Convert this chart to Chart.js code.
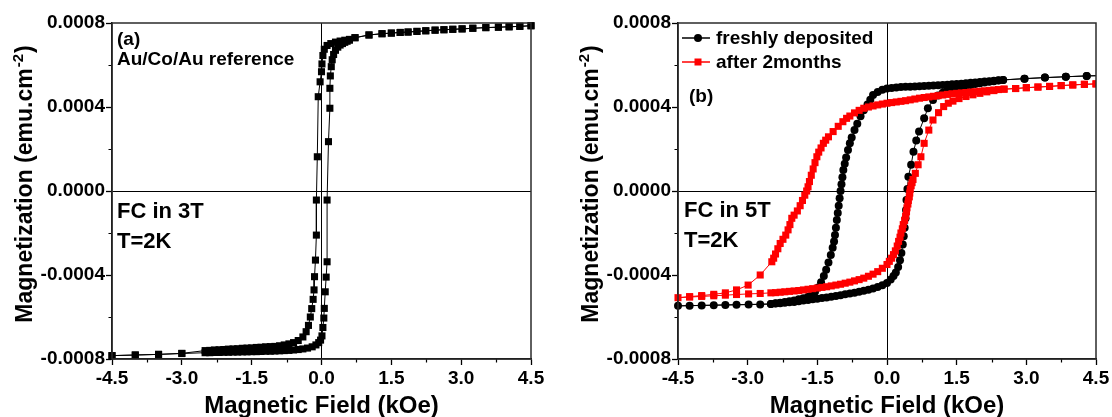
<!DOCTYPE html>
<html>
<head>
<meta charset="utf-8">
<script src="https://cdn.jsdelivr.net/npm/chart.js@4.4.1/dist/chart.umd.min.js"></script>
<style>
  body { margin: 0; background: #fff; }
  #wrap { position: relative; width: 1112px; height: 417px; }
  canvas { position: absolute; top: 0; }
  #chartA { left: 0; }
  #chartB { left: 556px; }
</style>
</head>
<body>
<div id="wrap">
  <canvas id="chartA" width="556" height="417"></canvas>
  <canvas id="chartB" width="556" height="417"></canvas>
</div>
<script>
// axes (field in kOe, magnetization in units of 1e-4 emu.cm-2)
const fieldTicks = [-4.5, -3, -1.5, 0, 1.5, 3, 4.5];
const fieldTickLabels = ['-4.5', '-3.0', '-1.5', '0.0', '1.5', '3.0', '4.5'];
const fieldMinor = [-3.75, -2.25, -0.75, 0.75, 2.25, 3.75];
const magTicks = [-8, -4, 0, 4, 8];
const magTickLabels = ['-0.0008', '-0.0004', '0.0000', '0.0004', '0.0008'];
const magMinor = [-6, -2, 2, 6];
const xTitle = 'Magnetic Field (kOe)';
const yTitle = ['Magnetization (emu.cm', '-2', ')'];

// (a) Au/Co/Au reference, field increasing then decreasing
const refUp = [[-4.5,-7.84],[-4.0,-7.81],[-3.5,-7.78],[-3.0,-7.74],[-2.5,-7.7],[-2.4,-7.7],[-2.3,-7.69],[-2.2,-7.69],
  [-2.1,-7.68],[-2.0,-7.68],[-1.9,-7.67],[-1.8,-7.67],[-1.7,-7.66],[-1.6,-7.66],[-1.5,-7.65],[-1.4,-7.65],[-1.3,-7.64],
  [-1.2,-7.63],[-1.1,-7.63],[-1.0,-7.62],[-0.9,-7.61],[-0.8,-7.6],[-0.7,-7.59],[-0.6,-7.57],[-0.5,-7.55],[-0.4,-7.52],
  [-0.3,-7.48],[-0.2,-7.42],[-0.12,-7.33],[-0.06,-7.22],[-0.02,-7.1],[0.01,-6.9],[0.03,-6.5],[0.05,-6.05],[0.06,-5.59],
  [0.08,-4.8],[0.1,-4.1],[0.12,-3.37],[0.12,-0.43],[0.15,2.35],[0.18,3.94],[0.18,4.89],[0.19,5.48],[0.21,5.92],
  [0.23,6.25],[0.26,6.5],[0.3,6.7],[0.35,6.85],[0.4,6.95],[0.45,7.02],[0.5,7.08],[0.55,7.13],[0.6,7.18],[0.72,7.3],
  [1.02,7.43],[1.3,7.49],[1.5,7.52],[1.69,7.55],[1.86,7.57],[2.05,7.6],[2.24,7.63],[2.44,7.66],[2.63,7.68],[2.82,7.7],
  [3.02,7.72],[3.25,7.75],[3.53,7.78],[3.8,7.8],[4.03,7.82],[4.26,7.84],[4.5,7.87]];
const refDown = [[4.5,7.87],[4.26,7.84],[4.03,7.82],[3.8,7.8],[3.53,7.78],[3.25,7.75],[3.02,7.72],[2.82,7.7],[2.63,7.68],
  [2.44,7.66],[2.24,7.63],[2.05,7.6],[1.86,7.57],[1.69,7.55],[1.5,7.52],[1.3,7.49],[1.02,7.43],[0.72,7.3],[0.6,7.22],
  [0.5,7.18],[0.4,7.14],[0.3,7.09],[0.2,7.02],[0.12,6.93],[0.06,6.75],[0.03,6.45],[0.01,6.05],[0.0,5.68],[-0.03,5.2],
  [-0.07,4.49],[-0.09,1.63],[-0.11,-0.43],[-0.11,-2.1],[-0.13,-3.29],[-0.15,-4.08],[-0.16,-4.71],[-0.18,-5.16],
  [-0.21,-5.6],[-0.24,-6.0],[-0.28,-6.4],[-0.33,-6.7],[-0.4,-6.95],[-0.5,-7.12],[-0.6,-7.22],[-0.7,-7.28],[-0.8,-7.33],
  [-0.9,-7.37],[-1.0,-7.4],[-1.1,-7.41],[-1.2,-7.42],[-1.3,-7.44],[-1.4,-7.45],[-1.5,-7.47],[-1.6,-7.48],[-1.7,-7.49],
  [-1.8,-7.51],[-1.9,-7.52],[-2.0,-7.53],[-2.1,-7.55],[-2.2,-7.56],[-2.3,-7.57],[-2.4,-7.59],[-2.5,-7.6],[-3.0,-7.73],
  [-3.5,-7.78],[-4.0,-7.81],[-4.5,-7.84]];

// (b) freshly deposited
const freshDown = [[4.75,5.5],[4.3,5.48],[3.85,5.44],[3.4,5.4],[2.96,5.35],[2.5,5.29],[2.4,5.27],[2.3,5.25],[2.2,5.23],
  [2.1,5.21],[2.0,5.19],[1.9,5.17],[1.8,5.15],[1.7,5.13],[1.6,5.11],[1.5,5.09],[1.4,5.08],[1.3,5.06],[1.2,5.05],
  [1.1,5.04],[1.0,5.02],[0.9,5.01],[0.8,5.0],[0.7,4.99],[0.6,4.98],[0.5,4.97],[0.4,4.96],[0.3,4.95],[0.2,4.93],
  [0.1,4.91],[0.0,4.88],[-0.1,4.82],[-0.2,4.72],[-0.3,4.57],[-0.36,4.35],[-0.42,4.12],[-0.5,3.85],[-0.57,3.56],
  [-0.64,3.2],[-0.7,2.9],[-0.76,2.55],[-0.8,2.27],[-0.84,1.95],[-0.88,1.6],[-0.91,1.3],[-0.94,1.0],[-0.96,0.65],
  [-0.98,0.32],[-1.0,0.0],[-1.02,-0.35],[-1.04,-0.7],[-1.06,-1.05],[-1.08,-1.38],[-1.1,-1.75],[-1.12,-2.1],
  [-1.14,-2.4],[-1.17,-2.7],[-1.21,-3.05],[-1.26,-3.4],[-1.31,-3.75],[-1.36,-4.05],[-1.42,-4.35],[-1.48,-4.6],
  [-1.55,-4.8],[-1.62,-4.95],[-1.7,-5.04],[-1.8,-5.11],[-1.9,-5.16],[-2.0,-5.21],[-2.1,-5.25],[-2.2,-5.29],
  [-2.3,-5.32],[-2.4,-5.35],[-2.5,-5.38],[-2.73,-5.4],[-2.98,-5.41],[-3.24,-5.42],[-3.48,-5.43],[-3.73,-5.44],
  [-3.99,-5.45],[-4.25,-5.46],[-4.5,-5.47]];
const freshUp = [[-2.5,-5.38],[-2.4,-5.36],[-2.3,-5.34],[-2.2,-5.32],[-2.1,-5.3],[-2.0,-5.28],[-1.9,-5.25],[-1.8,-5.22],
  [-1.7,-5.19],[-1.6,-5.16],[-1.5,-5.13],[-1.4,-5.1],[-1.3,-5.07],[-1.2,-5.04],[-1.1,-5.0],[-1.0,-4.96],[-0.9,-4.92],
  [-0.8,-4.88],[-0.7,-4.84],[-0.6,-4.8],[-0.5,-4.75],[-0.4,-4.7],[-0.3,-4.64],[-0.2,-4.57],[-0.1,-4.49],[0.0,-4.38],
  [0.08,-4.22],[0.14,-4.05],[0.19,-3.88],[0.24,-3.62],[0.28,-3.3],[0.31,-2.95],[0.34,-2.55],[0.36,-2.15],[0.38,-1.75],
  [0.4,-1.3],[0.41,-0.9],[0.42,-0.43],[0.44,0.1],[0.46,0.68],[0.52,1.25],[0.57,1.87],[0.63,2.4],[0.69,2.83],[0.8,3.46],
  [0.88,3.94],[0.99,4.33],[1.1,4.55],[1.2,4.68],[1.3,4.78],[1.4,4.86],[1.5,4.92],[1.6,4.97],[1.7,5.01],[1.8,5.05],
  [1.9,5.09],[2.0,5.13],[2.1,5.17],[2.2,5.2],[2.3,5.23],[2.4,5.26],[2.5,5.29],[2.96,5.35],[3.4,5.4],[3.85,5.44],
  [4.3,5.48],[4.75,5.5]];

// (b) after 2 months
const agedDown = [[4.5,5.1],[4.25,5.08],[4.0,5.05],[3.75,5.02],[3.5,4.98],[3.25,4.95],[3.0,4.92],[2.77,4.88],[2.52,4.85],
  [2.4,4.83],[2.3,4.81],[2.2,4.79],[2.1,4.77],[2.0,4.75],[1.9,4.73],[1.8,4.71],[1.7,4.69],[1.6,4.67],[1.5,4.65],
  [1.4,4.63],[1.3,4.6],[1.2,4.57],[1.1,4.54],[1.0,4.51],[0.9,4.48],[0.8,4.45],[0.7,4.42],[0.6,4.38],[0.5,4.34],
  [0.4,4.3],[0.3,4.27],[0.2,4.24],[0.1,4.21],[0.0,4.18],[-0.1,4.14],[-0.2,4.1],[-0.3,4.05],[-0.4,4.0],[-0.5,3.94],
  [-0.6,3.84],[-0.7,3.72],[-0.8,3.57],[-0.87,3.46],[-0.95,3.3],[-1.05,3.08],[-1.16,2.83],[-1.26,2.58],[-1.32,2.42],
  [-1.37,2.27],[-1.42,2.05],[-1.47,1.85],[-1.51,1.63],[-1.55,1.35],[-1.59,1.05],[-1.63,0.75],[-1.67,0.45],[-1.7,0.2],
  [-1.73,0.0],[-1.77,-0.2],[-1.82,-0.45],[-1.87,-0.7],[-1.93,-0.95],[-2.0,-1.15],[-2.05,-1.3],[-2.09,-1.6],
  [-2.13,-1.85],[-2.18,-2.1],[-2.24,-2.3],[-2.3,-2.5],[-2.35,-2.75],[-2.4,-3.0],[-2.44,-3.2],[-2.48,-3.37],
  [-2.73,-4.0],[-2.99,-4.48],[-3.24,-4.71],[-3.48,-4.85],[-3.73,-4.92],[-3.99,-4.98],[-4.25,-5.03],[-4.5,-5.08]];
const agedUp = [[-4.25,-5.05],[-3.99,-5.02],[-3.73,-4.99],[-3.48,-4.96],[-3.24,-4.93],[-2.98,-4.9],[-2.73,-4.88],
  [-2.5,-4.85],[-2.4,-4.84],[-2.3,-4.82],[-2.2,-4.8],[-2.1,-4.78],[-2.0,-4.76],[-1.9,-4.74],[-1.8,-4.71],[-1.7,-4.68],
  [-1.6,-4.65],[-1.5,-4.62],[-1.4,-4.59],[-1.3,-4.56],[-1.2,-4.52],[-1.1,-4.48],[-1.0,-4.44],[-0.9,-4.39],[-0.8,-4.34],
  [-0.7,-4.28],[-0.6,-4.22],[-0.5,-4.15],[-0.4,-4.06],[-0.3,-3.96],[-0.2,-3.84],[-0.1,-3.68],[0.0,-3.5],[0.05,-3.35],
  [0.1,-3.2],[0.14,-3.03],[0.18,-2.85],[0.22,-2.62],[0.25,-2.4],[0.28,-2.2],[0.3,-2.0],[0.33,-1.8],[0.35,-1.6],
  [0.38,-1.4],[0.4,-1.2],[0.42,-1.0],[0.43,-0.8],[0.45,-0.62],[0.46,-0.45],[0.48,-0.28],[0.49,-0.1],[0.5,0.08],
  [0.52,0.25],[0.54,0.4],[0.56,0.55],[0.61,0.84],[0.67,1.25],[0.73,1.63],[0.8,2.27],[0.9,2.9],[0.99,3.38],[1.11,3.73],
  [1.22,4.02],[1.32,4.18],[1.42,4.28],[1.55,4.4],[1.7,4.5],[1.85,4.58],[2.0,4.65],[2.15,4.72],[2.3,4.78],[2.52,4.85],
  [2.77,4.88],[3.0,4.92],[3.25,4.95],[3.5,4.98],[3.75,5.02],[4.0,5.05],[4.25,5.08],[4.5,5.1]];

const FONT = '"Liberation Sans", Arial, sans-serif';
Chart.defaults.font.family = FONT;
Chart.defaults.color = '#000';

const toPts = arr => arr.map(([x, y]) => ({ x, y }));

// frame, minor ticks, axis titles, labels inside the plot
const panelDeco = {
  id: 'panelDeco',
  afterDraw(chart, args, o) {
    const { ctx, chartArea: a } = chart;
    const xs = chart.scales.x, ys = chart.scales.y;
    ctx.save();
    ctx.strokeStyle = '#000';
    ctx.lineWidth = 1.2;
    ctx.beginPath();
    fieldMinor.forEach(v => {
      const px = Math.round(xs.getPixelForValue(v)) + 0.5;
      ctx.moveTo(px, a.bottom); ctx.lineTo(px, a.bottom + 3.5);
    });
    magMinor.forEach(v => {
      const py = Math.round(ys.getPixelForValue(v)) + 0.5;
      ctx.moveTo(a.left, py); ctx.lineTo(a.left - 3.5, py);
    });
    ctx.stroke();

    ctx.strokeStyle = '#2b2b2b';
    ctx.lineWidth = 1.5;
    ctx.strokeRect(a.left, a.top, a.right - a.left, a.bottom - a.top);

    ctx.fillStyle = '#000';
    ctx.textBaseline = 'alphabetic';
    ctx.font = 'bold 24px ' + FONT;
    ctx.textAlign = 'center';
    ctx.fillText(xTitle, (a.left + a.right) / 2, 413);

    // y title with superscript
    ctx.save();
    ctx.translate(a.left - 80, (a.top + a.bottom) / 2 - 7);
    ctx.rotate(-Math.PI / 2);
    ctx.textAlign = 'left';
    const big = 'bold 23px ' + FONT, small = 'bold 15px ' + FONT;
    ctx.font = big;
    const w1 = ctx.measureText(yTitle[0]).width, w3 = ctx.measureText(yTitle[2]).width;
    ctx.font = small;
    const w2 = ctx.measureText(yTitle[1]).width;
    const x0 = -(w1 + w2 + w3 + 2) / 2;
    ctx.font = big; ctx.fillText(yTitle[0], x0, 0);
    ctx.font = small; ctx.fillText(yTitle[1], x0 + w1 + 1, -9);
    ctx.font = big; ctx.fillText(yTitle[2], x0 + w1 + w2 + 2, 0);
    ctx.restore();

    ctx.textAlign = 'left';
    (o.notes || []).forEach(n => {
      ctx.font = 'bold ' + n.size + 'px ' + FONT;
      ctx.fillText(n.text, a.left + n.dx, n.y);
    });

    if (o.legend) {
      const L = o.legend;
      chart.data.datasets.forEach((ds, i) => {
        const y = L.y0 + i * L.gap;
        ctx.strokeStyle = ds.borderColor;
        ctx.lineWidth = 1.5;
        ctx.beginPath();
        ctx.moveTo(a.left + L.dx, y); ctx.lineTo(a.left + L.dx + 28, y);
        ctx.stroke();
        ctx.fillStyle = ds.backgroundColor;
        const mx = a.left + L.dx + 16;
        if (ds.pointStyle === 'circle') {
          ctx.beginPath(); ctx.arc(mx, y, 4, 0, Math.PI * 2); ctx.fill();
        } else {
          ctx.fillRect(mx - 3.5, y - 3.5, 7, 7);
        }
        ctx.fillStyle = '#000';
        ctx.font = 'bold 19px ' + FONT;
        ctx.textBaseline = 'middle';
        ctx.fillText(ds.label, a.left + L.dx + 34, y + 1);
        ctx.textBaseline = 'alphabetic';
      });
    }
    ctx.restore();
  }
};

const tickFont = { size: 19, weight: 'bold' };
const zeroLine = c => (c.tick && c.tick.value === 0 ? '#000' : 'rgba(0,0,0,0)');

function panelOptions(p) {
  return {
    responsive: false,
    animation: false,
    events: [],
    layout: { padding: { left: 0, right: p.padRight, top: 23, bottom: 0 } },
    plugins: { legend: { display: false }, tooltip: { enabled: false }, panelDeco: p.deco },
    scales: {
      x: {
        type: 'linear', min: -4.5, max: 4.5,
        afterBuildTicks: s => { s.ticks = fieldTicks.map(v => ({ value: v })); },
        afterFit: s => { s.height = 58; },
        ticks: { callback: (v, i) => fieldTickLabels[i], autoSkip: false, maxRotation: 0, padding: 2, color: '#000', font: tickFont },
        grid: { color: zeroLine, lineWidth: 1, tickColor: '#000', tickLength: 6, tickWidth: 1.3 },
        border: { display: true, color: '#000', width: 1.5 }
      },
      y: {
        type: 'linear', min: -8, max: 8,
        afterBuildTicks: s => { s.ticks = magTicks.map(v => ({ value: v })); },
        afterFit: s => { s.width = p.yWidth; },
        ticks: { callback: (v, i) => magTickLabels[i], autoSkip: false, padding: 1, color: '#000', font: tickFont },
        grid: { color: zeroLine, lineWidth: 1, tickColor: '#000', tickLength: 6, tickWidth: 1.3 },
        border: { display: true, color: '#000', width: 1.5 }
      }
    }
  };
}

new Chart(document.getElementById('chartA'), {
  type: 'scatter',
  data: {
    datasets: [{
      label: 'Au/Co/Au reference',
      data: toPts(refUp.concat(refDown)),
      showLine: true,
      borderColor: '#000',
      backgroundColor: '#000',
      borderWidth: 1,
      pointStyle: 'rect',
      pointRadius: 5,
      pointBorderWidth: 0,
      clip: 6
    }]
  },
  options: panelOptions({
    yWidth: 112, padRight: 25,
    deco: {
      notes: [
        { text: '(a)', dx: 5, y: 45, size: 19 },
        { text: 'Au/Co/Au reference', dx: 5, y: 65, size: 19 },
        { text: 'FC in 3T', dx: 5, y: 218, size: 22 },
        { text: 'T=2K', dx: 5, y: 248, size: 22 }
      ]
    }
  }),
  plugins: [panelDeco]
});

new Chart(document.getElementById('chartB'), {
  type: 'scatter',
  data: {
    datasets: [{
      label: 'freshly deposited',
      data: toPts(freshDown.concat(freshUp)),
      showLine: true,
      borderColor: '#000',
      backgroundColor: '#000',
      borderWidth: 1,
      pointStyle: 'circle',
      pointRadius: 4,
      pointBorderWidth: 0,
      order: 1,
      clip: { left: 6, right: 0, top: 6, bottom: 6 }
    }, {
      label: 'after 2months',
      data: toPts(agedDown.concat(agedUp)),
      showLine: true,
      borderColor: '#ff0000',
      backgroundColor: '#ff0000',
      borderWidth: 1,
      pointStyle: 'rect',
      pointRadius: 5,
      pointBorderWidth: 0,
      order: 0,
      clip: { left: 6, right: 0, top: 6, bottom: 6 }
    }]
  },
  options: panelOptions({
    yWidth: 122, padRight: 16,
    deco: {
      notes: [
        { text: '(b)', dx: 11, y: 102, size: 19 },
        { text: 'FC in 5T', dx: 6, y: 217, size: 22 },
        { text: 'T=2K', dx: 6, y: 247, size: 22 }
      ],
      legend: { dx: 4, y0: 38, gap: 24 }
    }
  }),
  plugins: [panelDeco]
});
</script>
</body>
</html>
